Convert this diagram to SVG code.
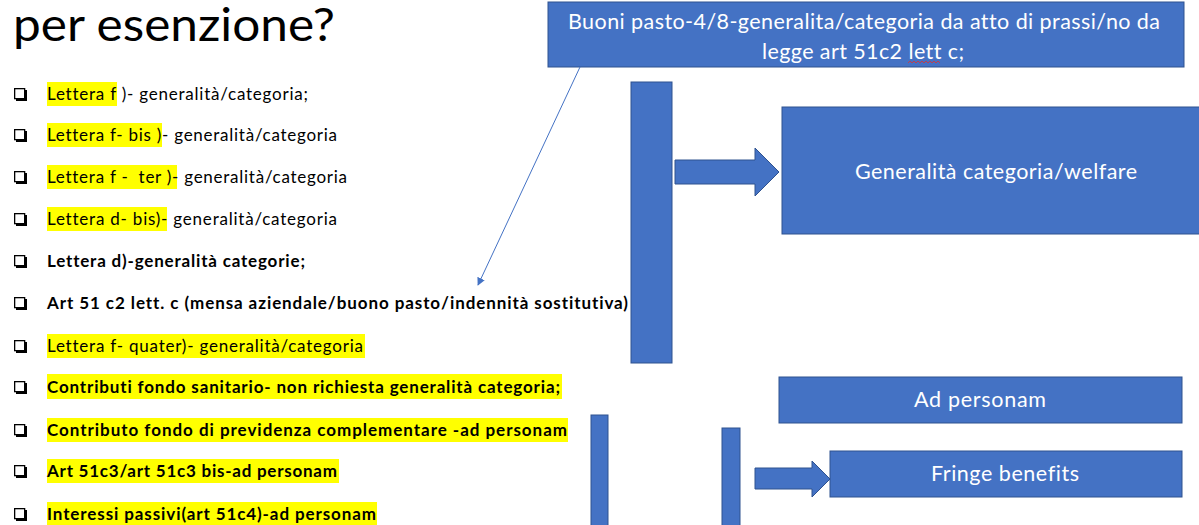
<svg xmlns="http://www.w3.org/2000/svg" width="1199" height="525" viewBox="0 0 1199 525">
<defs>
<style>
text{font-variant-ligatures:none}
.box{fill:#4472C4;stroke:#2F528F;stroke-width:1}
.wt{font-family:Lato,"Liberation Sans",sans-serif;font-size:21.5px;fill:#fff;text-anchor:middle}
.li{font-family:Lato,"Liberation Sans",sans-serif;font-size:17px;fill:#000;white-space:pre}
.b{font-weight:bold}
.hl{fill:#FFFF00}
.cb{fill:#fff;stroke:#000;stroke-width:1.3}
.cbs{fill:#000}
</style>
<marker id="ah" viewBox="0 0 10 10" refX="9" refY="5" markerWidth="8" markerHeight="8" orient="auto" markerUnits="userSpaceOnUse">
<path d="M0,0 L10,5 L0,10 z" fill="#4472C4"/>
</marker>
<g id="chk">
<rect class="cbs" x="2" y="2" width="11" height="11"/>
<rect class="cb" x="0.65" y="0.65" width="10" height="10"/>
</g>
</defs>
<rect width="1199" height="525" fill="#fff"/>

<g id="title">
<text x="13" y="41" font-family="Lato,'Liberation Sans',sans-serif" font-size="46" textLength="322" lengthAdjust="spacingAndGlyphs" fill="#000">per esenzione?</text>
</g>

<g id="list">
<rect class="hl" x="47" y="82" width="70" height="24"/>
<rect class="hl" x="47" y="123" width="115" height="24"/>
<rect class="hl" x="47" y="165" width="130" height="24"/>
<rect class="hl" x="47" y="207" width="120" height="24"/>
<rect class="hl" x="47" y="334" width="318" height="24"/>
<rect class="hl" x="47" y="374" width="515" height="25"/>
<rect class="hl" x="47" y="418" width="521" height="24"/>
<rect class="hl" x="47" y="459" width="292" height="24"/>
<rect class="hl" x="47" y="502" width="330" height="23"/>

<use href="#chk" x="14" y="88"/>
<use href="#chk" x="14" y="129"/>
<use href="#chk" x="14" y="171"/>
<use href="#chk" x="14" y="213"/>
<use href="#chk" x="14" y="255"/>
<use href="#chk" x="14" y="297"/>
<use href="#chk" x="14" y="340"/>
<use href="#chk" x="14" y="381"/>
<use href="#chk" x="14" y="424"/>
<use href="#chk" x="14" y="465"/>
<use href="#chk" x="14" y="508"/>

<text class="li" x="47" y="100" textLength="261" xml:space="preserve">Lettera f )- generalità/categoria;</text>
<text class="li" x="47" y="141" textLength="290" xml:space="preserve">Lettera f- bis )- generalità/categoria</text>
<text class="li" x="47" y="183" textLength="300" xml:space="preserve">Lettera f -  ter )- generalità/categoria</text>
<text class="li" x="47" y="225" textLength="290" xml:space="preserve">Lettera d- bis)- generalità/categoria</text>
<text class="li b" x="47" y="267" textLength="258">Lettera d)-generalità categorie;</text>
<text class="li b" x="47" y="309" textLength="581">Art 51 c2 lett. c (mensa aziendale/buono pasto/indennità sostitutiva)</text>
<text class="li" x="47" y="352" textLength="316">Lettera f- quater)- generalità/categoria</text>
<text class="li b" x="47" y="393" textLength="513">Contributi fondo sanitario- non richiesta generalità categoria;</text>
<text class="li b" x="47" y="436" textLength="520">Contributo fondo di previdenza complementare -ad personam</text>
<text class="li b" x="47" y="477" textLength="290">Art 51c3/art 51c3 bis-ad personam</text>
<text class="li b" x="47" y="520" textLength="329">Interessi passivi(art 51c4)-ad personam</text>
</g>

<g id="buoni-pasto">
<rect class="box" x="548" y="2" width="636" height="65"/>
<text class="wt" x="864" y="29" textLength="592">Buoni pasto-4/8-generalita/categoria da atto di prassi/no da</text>
<text class="wt" x="863" y="59" textLength="202">legge art 51c2 lett c;</text>
<path d="M908,63 l2,-2 l2,2 l2,-2 l2,2 l2,-2 l2,2 l2,-2 l2,2 l2,-2 l2,2 l2,-2 l2,2 l2,-2 l2,2 l2,-2 l2,2" fill="none" stroke="#E03030" stroke-width="0.8"/>
</g>

<g id="bar-tall">
<rect class="box" x="631" y="82" width="41" height="281"/>
</g>

<g id="generalita">
<rect class="box" x="782" y="107" width="418" height="127"/>
<text class="wt" x="996" y="179" textLength="282">Generalità categoria/welfare</text>
</g>

<g id="ad-personam">
<rect class="box" x="779" y="377" width="403" height="46"/>
<text class="wt" x="980" y="407" textLength="132">Ad personam</text>
</g>

<g id="fringe">
<rect class="box" x="830" y="451" width="352" height="46"/>
<text class="wt" x="1005" y="481" textLength="148">Fringe benefits</text>
</g>

<g id="bar-small-left">
<rect class="box" x="591" y="415" width="17" height="115"/>
</g>

<g id="bar-small-right">
<rect class="box" x="722" y="428" width="18" height="102"/>
</g>

<g id="connectors">
<line x1="580" y1="67" x2="478" y2="285" stroke="#4472C4" stroke-width="1" marker-end="url(#ah)"/>
<path class="box" d="M675,160 H755 V148 L779,172 L755,196 V184 H675 Z"/>
<path class="box" d="M755,468 H812 V461 L830,479 L812,497 V489 H755 Z"/>
</g>
</svg>
